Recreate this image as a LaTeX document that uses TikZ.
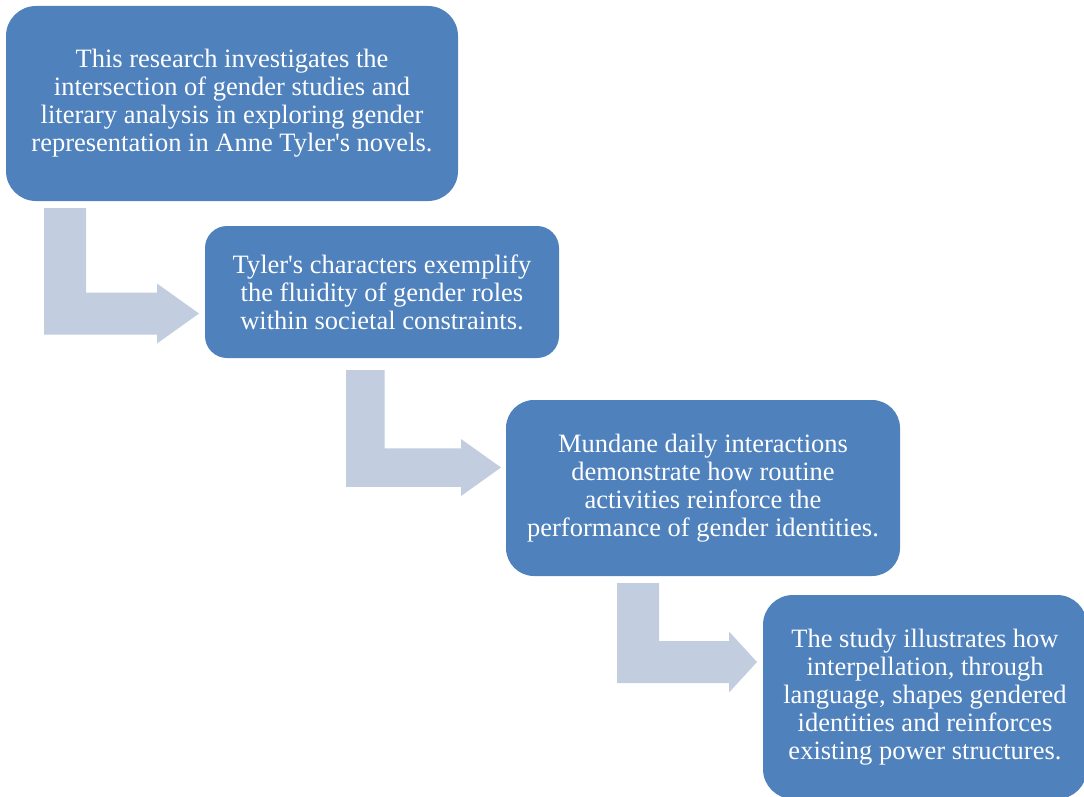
\documentclass[tikz,border=0pt]{standalone}
\usepackage{fontspec}
\setmainfont{Liberation Serif}
\definecolor{boxblue}{HTML}{4F81BD}
\definecolor{arrowgrey}{HTML}{C2CDE0}
\tikzset{
    stagebox/.style={rectangle, fill=boxblue, text=white, align=center,
        inner sep=0pt, font=\fontsize{26.5}{28}\selectfont},
    bentarrow/.style={fill=arrowgrey, draw=none}
}
\begin{document}
\begin{tikzpicture}[x=1pt,y=-1pt]
    \useasboundingbox (0,0) rectangle (1084,797);
    \node[stagebox, minimum width=452, minimum height=195, rounded corners=30] (research) at (232,103.5)
        {This research investigates the\\ intersection of gender studies and\\ literary analysis in exploring gender\\ representation in Anne Tyler\textquotesingle s novels.};
    \node[stagebox, minimum width=354, minimum height=132, rounded corners=22] (roles) at (382,292)
        {Tyler\textquotesingle s characters exemplify\\ the fluidity of gender roles\\ within societal constraints.};
    \node[stagebox, minimum width=394, minimum height=176, rounded corners=28] (routine) at (703,488)
        {Mundane daily interactions\\ demonstrate how routine\\ activities reinforce the\\ performance of gender identities.};
    \node[stagebox, minimum width=324, minimum height=204, rounded corners=30] (interp) at (925,697)
        {The study illustrates how\\ interpellation, through\\ language, shapes gendered\\ identities and reinforces\\ existing power structures.};
    % bent arrows: left x / bar width / top y / tip y / head base x / tip x / head half height
    \foreach \xl/\w/\yt/\yc/\hb/\tx/\hh in {44/42/208/313.5/157/199/30, 346/38.5/370/467.5/461/501/28.5, 617/42/583/662/729/757/30.5}
        \fill[bentarrow] (\xl,\yt) -- ({\xl+\w},\yt) -- ({\xl+\w},{\yc-\w/2}) -- (\hb,{\yc-\w/2})
            -- (\hb,{\yc-\hh}) -- (\tx,\yc) -- (\hb,{\yc+\hh}) -- (\hb,{\yc+\w/2}) -- (\xl,{\yc+\w/2}) -- cycle;
\end{tikzpicture}
\end{document}
